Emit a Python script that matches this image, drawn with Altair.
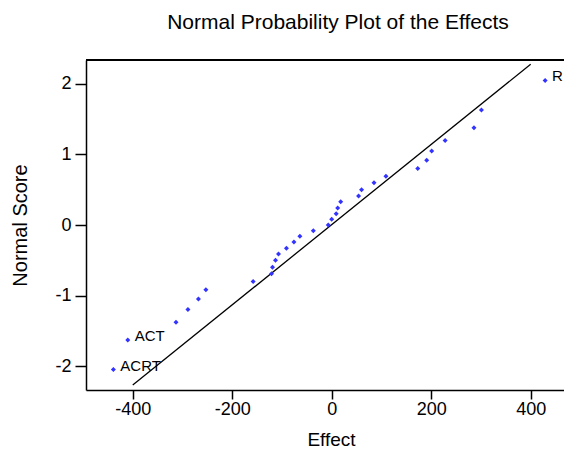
import altair as alt
import pandas as pd

# Effects (x) and their normal scores (y)
effects = [-439, -410, -313, -289, -268, -253, -158, -121, -119, -113, -107,
           -91, -76, -64, -37, -7, 0, 9, 12, 18, 54, 60, 85, 109, 173, 191,
           201, 228, 286, 301, 429]
scores = [-2.05, -1.63, -1.38, -1.20, -1.05, -0.92, -0.80, -0.69, -0.60,
          -0.50, -0.41, -0.33, -0.24, -0.16, -0.08, 0.00, 0.08, 0.16, 0.24,
          0.33, 0.41, 0.50, 0.60, 0.69, 0.80, 0.92, 1.05, 1.20, 1.38, 1.63,
          2.05]
labels = ["ACRT", "ACT"] + [""] * 28 + ["R"]

# Reference line
line_x = [-400, 400]
line_y = [-2.27, 2.28]

x_ticks = [-400, -200, 0, 200, 400]
y_ticks = [-2, -1, 0, 1, 2]

FONT = "Liberation Sans"
W, H = 478, 330

pts = pd.DataFrame({"Effect": effects, "Score": scores, "Label": labels})
lab = pts[pts["Label"] != ""]
ln = pd.DataFrame({"Effect": line_x, "Score": line_y})

xscale = alt.Scale(domain=[-494, 467], nice=False, zero=False)
yscale = alt.Scale(domain=[-2.34, 2.34], nice=False, zero=False)

xaxis = alt.Axis(values=x_ticks, title="Effect", grid=False, tickSize=9,
                 labelPadding=1, labelFontSize=18, titleFontSize=19,
                 labelExpr="toString(datum.value)",
                 titleX=245, titleY=55, titleBaseline="alphabetic",
                 titleFontWeight="normal")
yaxis = alt.Axis(values=y_ticks, title="Normal Score", grid=False, tickSize=11,
                 labelPadding=4, labelFontSize=18, titleFontSize=20,
                 labelExpr="toString(datum.value)",
                 titleX=-66, titleY=165, titleBaseline="middle",
                 titleFontWeight="normal")

points = alt.Chart(pts).mark_point(shape="diamond", filled=True, size=25,
                                   color="#3333ff", opacity=1).encode(
    x=alt.X("Effect:Q", scale=xscale, axis=xaxis),
    y=alt.Y("Score:Q", scale=yscale, axis=yaxis),
)

text = alt.Chart(lab).mark_text(align="left", baseline="middle", dx=7, dy=-4,
                                fontSize=15, font=FONT, color="black").encode(
    x=alt.X("Effect:Q", scale=xscale),
    y=alt.Y("Score:Q", scale=yscale),
    text="Label:N",
)

refline = alt.Chart(ln).mark_line(color="black", strokeWidth=1.3).encode(
    x=alt.X("Effect:Q", scale=xscale),
    y=alt.Y("Score:Q", scale=yscale),
)

topframe = alt.Chart(pts).mark_rule(color="black", strokeWidth=1.5).encode(
    x=alt.value(0), x2=alt.value(W), y=alt.value(0)
)

chart = alt.layer(refline, points, text, topframe).properties(
    width=W, height=H,
    title=alt.TitleParams("Normal Probability Plot of the Effects",
                          font=FONT, fontSize=21, fontWeight="normal",
                          anchor="middle", dx=13, baseline="alphabetic",
                          offset=9, color="black"),
    autosize=alt.AutoSizeParams(type="none"),
    padding={"left": 78, "top": 52, "right": 0, "bottom": 58},
).configure_view(stroke=None).configure_axis(
    labelFont=FONT, titleFont=FONT, labelColor="black", titleColor="black",
    domainColor="black", tickColor="black", domainWidth=1.5, tickWidth=1.5,
)

chart.save("out.html", embed_options={"renderer": "svg", "actions": False})
